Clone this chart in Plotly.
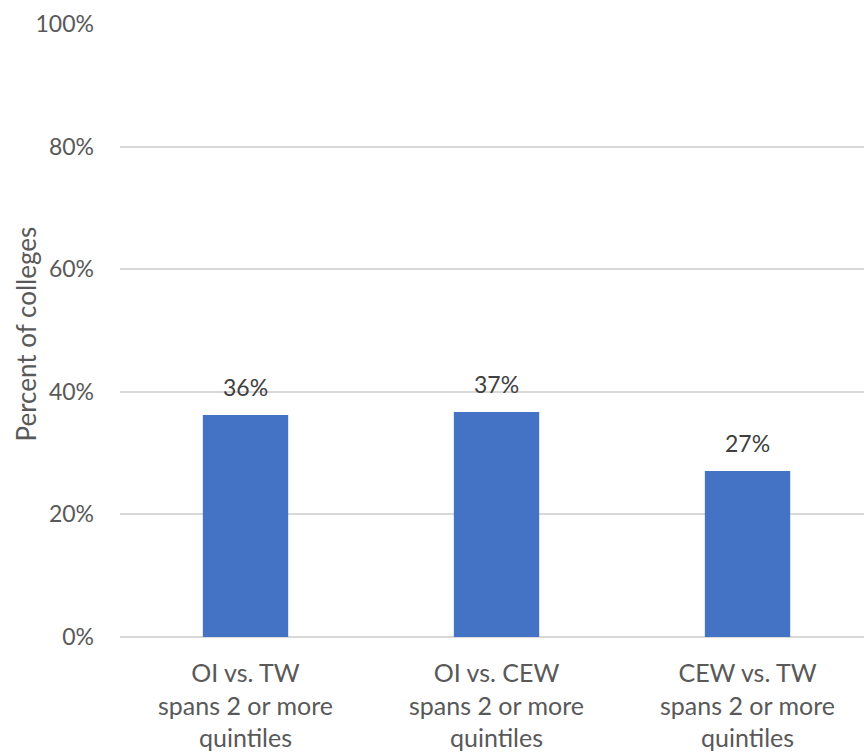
import plotly.graph_objects as go

# Share of colleges whose rankings differ by two or more quintiles
categories = [
    "OI vs. TW<br>spans 2 or more<br>quintiles",
    "OI vs. CEW<br>spans 2 or more<br>quintiles",
    "CEW vs. TW<br>spans 2 or more<br>quintiles",
]
values = [36.2, 36.7, 27.1]
y_ticks = [0, 20, 40, 60, 80, 100]
y_tick_labels = [f"{t}%" for t in y_ticks]
y_title = "Percent of colleges"

FONT = "Lato, Carlito, Calibri, sans-serif"
AXIS_GRAY = "#595959"
LABEL_GRAY = "#404040"
GRID = "#d9d9d9"

fig = go.Figure(
    go.Bar(
        x=categories,
        y=values,
        marker=dict(color="#4472C4", line=dict(width=0)),
        width=0.34,
        hoverinfo="skip",
    )
)

# value labels sitting a little above each bar
for cat, v in zip(categories, values):
    fig.add_annotation(
        x=cat,
        y=v,
        text=f"{v:.0f}%",
        showarrow=False,
        yanchor="bottom",
        yshift=12,
        font=dict(family=FONT, size=23, color=LABEL_GRAY),
    )

# vertical axis title, placed freely in the left margin
fig.add_annotation(
    text=y_title,
    xref="paper",
    yref="paper",
    x=0,
    y=0.5,
    xanchor="center",
    yanchor="middle",
    xshift=-95,
    yshift=-4,
    textangle=-90,
    showarrow=False,
    font=dict(family=FONT, size=26, color=AXIS_GRAY),
)

fig.update_layout(
    width=864,
    height=752,
    margin=dict(l=120, r=0, t=24, b=115),
    paper_bgcolor="white",
    plot_bgcolor="white",
    font=dict(family=FONT, size=23, color=AXIS_GRAY),
    showlegend=False,
)

fig.update_xaxes(
    range=[-0.5, 2.464],
    showgrid=False,
    showline=False,
    zeroline=False,
    ticks="",
    automargin=False,
    tickfont=dict(family=FONT, size=25, color=AXIS_GRAY),
    ticklabelstandoff=19,
)

fig.update_yaxes(
    range=[0, 100],
    tickvals=y_ticks,
    ticktext=y_tick_labels,
    showgrid=True,
    gridcolor=GRID,
    gridwidth=1.5,
    zeroline=True,
    zerolinecolor=GRID,
    zerolinewidth=1.5,
    showline=False,
    ticks="",
    automargin=False,
    ticklabelstandoff=25,
    tickfont=dict(family=FONT, size=23, color=AXIS_GRAY),
)

fig.write_html("out.html")
